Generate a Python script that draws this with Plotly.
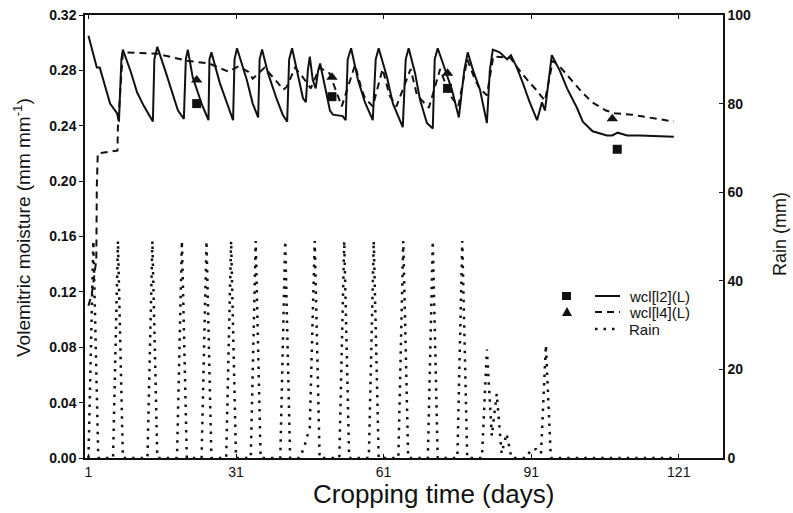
import plotly.graph_objects as go

# ---------------- data ----------------
days_l2 = [1, 2.7, 3.3, 4.0, 5.4, 6.8, 7.2, 7.7, 8.0, 9.6, 10.9, 12.3, 13.7, 14.1, 14.4, 15.0,
           16.6, 18.0, 19.2, 20.4, 20.8, 21.2, 22.2, 24.1, 25.4, 25.6, 26.0, 27.7, 29.2, 30.4,
           30.7, 31.2, 33.2, 34.4, 35.5, 35.8, 36.3, 37.5, 39.3, 40.5, 41.4, 41.8, 42.4, 43.6,
           44.6, 45.2, 45.6, 46.0, 46.6, 47.2, 47.7, 48.1, 49.1, 50.1, 50.7, 52.7, 53.3, 53.7,
           54.4, 55.8, 57.2, 58.8, 59.4, 60.0, 61.7, 62.9, 64.9, 65.5, 66.1, 67.4, 68.4, 69.8,
           71.0, 71.4, 72.0, 73.5, 74.9, 76.3, 77.4, 78.1, 79.2, 80.6, 82.0, 82.6, 83.2, 84.6,
           86.1, 86.9, 88.1, 89.3, 90.7, 92.2, 93.2, 93.8, 94.8, 95.2, 96.8, 98.3, 100.3, 101.5,
           103.5, 106.4, 107.5, 108.6, 110.5, 113.1, 120]
wcl_l2 = [0.305, 0.282, 0.282, 0.273, 0.256, 0.249, 0.243, 0.288, 0.295, 0.279, 0.264, 0.254,
          0.246, 0.243, 0.288, 0.297, 0.280, 0.264, 0.251, 0.245, 0.288, 0.295, 0.275, 0.255,
          0.244, 0.288, 0.293, 0.271, 0.256, 0.244, 0.288, 0.296, 0.273, 0.256, 0.246, 0.288,
          0.295, 0.278, 0.259, 0.248, 0.243, 0.288, 0.296, 0.275, 0.260, 0.257, 0.280, 0.290,
          0.273, 0.267, 0.280, 0.285, 0.269, 0.251, 0.248, 0.247, 0.244, 0.288, 0.296, 0.273,
          0.257, 0.244, 0.288, 0.296, 0.275, 0.256, 0.239, 0.288, 0.296, 0.278, 0.259, 0.242,
          0.238, 0.288, 0.296, 0.280, 0.266, 0.246, 0.280, 0.293, 0.280, 0.266, 0.242, 0.280,
          0.295, 0.293, 0.288, 0.291, 0.282, 0.271, 0.257, 0.244, 0.257, 0.251, 0.277, 0.291,
          0.280, 0.267, 0.253, 0.243, 0.236, 0.233, 0.233, 0.235, 0.233, 0.233, 0.232]

days_l4 = [1, 1.7, 2.6, 2.7, 2.9, 6.9, 7.0, 8.0, 15.0, 21.0, 25.5, 27.5, 29.5, 31.5, 33.5,
           34.4, 36.8, 39.5, 40.6, 41.3, 43.0, 44.6, 46.2, 48.0, 50.0, 52.5, 55.2, 56.4, 57.2,
           58.8, 60.8, 62.2, 63.6, 66.5, 67.8, 70.2, 72.5, 74.3, 76.2, 78.0, 79.5, 80.5, 82.0,
           83.3, 86.8, 88.2, 90.0, 92.0, 93.8, 95.4, 97.0, 99.2, 101.4, 103.4, 106.2, 108.0,
           111.5, 120.0]
wcl_l4 = [0.110, 0.119, 0.143, 0.196, 0.220, 0.222, 0.240, 0.293, 0.292, 0.287, 0.285, 0.282,
          0.279, 0.283, 0.279, 0.274, 0.282, 0.271, 0.266, 0.268, 0.282, 0.275, 0.267, 0.282,
          0.278, 0.254, 0.284, 0.268, 0.260, 0.254, 0.281, 0.262, 0.254, 0.281, 0.262, 0.253,
          0.281, 0.263, 0.254, 0.288, 0.274, 0.267, 0.262, 0.290, 0.289, 0.282, 0.274, 0.266,
          0.258, 0.287, 0.282, 0.273, 0.264, 0.257, 0.251, 0.249, 0.248, 0.243]

obs_days_l2 = [23, 50.5, 74, 108.5]
obs_l2 = [0.256, 0.261, 0.267, 0.223]
obs_days_l4 = [23, 50.5, 74, 107.5]
obs_l4 = [0.273, 0.275, 0.278, 0.245]

rain_days = [1, 2, 3, 6, 7, 8, 13, 14, 15, 19, 20, 21, 24, 25, 26, 29, 30, 31, 34, 35, 36,
             40, 41, 42, 44, 45, 46, 47, 48, 52, 53, 54, 58, 59, 60, 64, 65, 66, 70, 71, 72,
             76, 77, 78, 81, 82, 83, 84, 85, 86, 87, 90, 91, 92, 93, 94, 95, 120]
rain_mm = [0, 49, 0, 0, 49, 0, 0, 49, 0, 0, 49, 0, 0, 49, 0, 0, 49, 0, 0, 49, 0,
           0, 49, 0, 0, 3, 7, 49, 0, 0, 49, 0, 0, 49, 0, 0, 49, 0, 0, 49, 0,
           0, 49, 0, 0, 24.5, 5, 14.5, 1, 5.5, 0, 0, 2, 2, 1, 25.5, 0, 0]

x_ticks = [1, 31, 61, 91, 121]
y_ticks = [0.00, 0.04, 0.08, 0.12, 0.16, 0.20, 0.24, 0.28, 0.32]
y2_ticks = [0, 20, 40, 60, 80, 100]

legend_labels = ["wcl[l2](L)", "wcl[l4](L)", "Rain"]

# ---------------- figure ----------------
FONT = "Liberation Sans, Arial, sans-serif"
BLACK = "#111111"
RAIN_DASH = "2.5px,6px"
L4_DASH = "7px,5px"

fig = go.Figure()
fig.add_trace(go.Scatter(x=rain_days, y=rain_mm, mode="lines", yaxis="y2",
                         line=dict(color=BLACK, width=2.5, dash=RAIN_DASH),
                         showlegend=False))
fig.add_trace(go.Scatter(x=days_l2, y=wcl_l2, mode="lines",
                         line=dict(color=BLACK, width=2), showlegend=False))
fig.add_trace(go.Scatter(x=days_l4, y=wcl_l4, mode="lines",
                         line=dict(color=BLACK, width=2, dash=L4_DASH), showlegend=False))
fig.add_trace(go.Scatter(x=obs_days_l2, y=obs_l2, mode="markers",
                         marker=dict(symbol="square", size=9, color=BLACK), showlegend=False))
fig.add_trace(go.Scatter(x=obs_days_l4, y=obs_l4, mode="markers",
                         marker=dict(symbol="triangle-up", size=10, color=BLACK), showlegend=False))

# plot-area geometry in pixels (for legend/title placement)
L, R, T, B = 85, 723, 15, 458
def px(xp):
    return (xp - L) / (R - L)
def py(yp):
    return (B - yp) / (B - T)

shapes = []
annotations = []
# legend glyphs
shapes.append(dict(type="rect", xref="paper", yref="paper",
                   x0=px(562), x1=px(571), y0=py(300), y1=py(292),
                   fillcolor=BLACK, line=dict(width=0)))
shapes.append(dict(type="path", xref="paper", yref="paper",
                   path=f"M {px(562)},{py(316)} L {px(572)},{py(316)} L {px(567)},{py(307)} Z",
                   fillcolor=BLACK, line=dict(width=0)))
shapes.append(dict(type="line", xref="paper", yref="paper",
                   x0=px(595), x1=px(620), y0=py(296), y1=py(296),
                   line=dict(color=BLACK, width=2)))
shapes.append(dict(type="line", xref="paper", yref="paper",
                   x0=px(595), x1=px(620), y0=py(312), y1=py(312),
                   line=dict(color=BLACK, width=2, dash=L4_DASH)))
shapes.append(dict(type="line", xref="paper", yref="paper",
                   x0=px(595), x1=px(620), y0=py(329), y1=py(329),
                   line=dict(color=BLACK, width=2.5, dash=RAIN_DASH)))
for lab, yy in zip(legend_labels, [296, 312, 329]):
    annotations.append(dict(text=lab, xref="paper", yref="paper", x=px(627), y=py(yy),
                            xanchor="left", yanchor="middle", showarrow=False,
                            font=dict(family=FONT, size=15, color=BLACK)))

# axis titles
annotations.append(dict(text="Volemitric moisture (mm mm<sup>-1</sup>)", xref="paper", yref="paper",
                        x=px(22), y=py(228), textangle=-90, showarrow=False,
                        xanchor="center", yanchor="middle",
                        font=dict(family=FONT, size=19, color=BLACK)))
annotations.append(dict(text="Cropping time (days)", xref="paper", yref="paper",
                        x=px(433), y=py(494), showarrow=False,
                        xanchor="center", yanchor="middle",
                        font=dict(family=FONT, size=26, color=BLACK)))
annotations.append(dict(text="Rain (mm)", xref="paper", yref="paper",
                        x=px(780), y=py(234), textangle=-90, showarrow=False,
                        xanchor="center", yanchor="middle",
                        font=dict(family=FONT, size=18, color=BLACK)))

fig.update_layout(
    width=793, height=513,
    margin=dict(l=L, r=793 - R, t=T, b=513 - B, pad=0, autoexpand=False),
    paper_bgcolor="white", plot_bgcolor="white",
    font=dict(family=FONT, color=BLACK),
    showlegend=False,
    shapes=shapes, annotations=annotations,
    xaxis=dict(range=[0.3, 130], tickvals=x_ticks, ticks="inside", ticklen=4,
               tickcolor=BLACK, showline=True, linecolor=BLACK, linewidth=1.5,
               mirror="ticks", showgrid=False, zeroline=False, automargin=False,
               tickfont=dict(family=FONT, size=14, color=BLACK)),
    yaxis=dict(range=[0, 0.32], tickvals=y_ticks, tickformat=".2f", ticks="outside",
               ticklen=4, tickcolor=BLACK, showline=True, linecolor=BLACK, linewidth=1.5,
               showgrid=False, zeroline=False, automargin=False,
               tickfont=dict(family=FONT, size=14, color=BLACK, weight="bold")),
    yaxis2=dict(range=[0, 100], tickvals=y2_ticks, overlaying="y", side="right",
                ticks="inside", ticklen=4, tickcolor=BLACK, showline=True,
                linecolor=BLACK, linewidth=1.5, showgrid=False, zeroline=False,
                automargin=False,
                tickfont=dict(family=FONT, size=14, color=BLACK, weight="bold")),
)

fig.write_html("out.html", config={"displayModeBar": False},
               post_script="document.body.style.margin='0';document.body.style.overflow='hidden';")
